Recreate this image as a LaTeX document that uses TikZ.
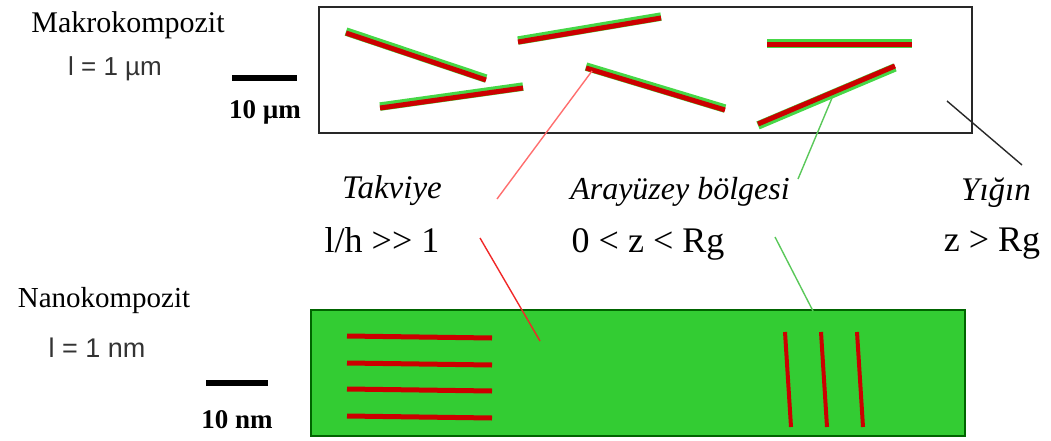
\documentclass[tikz,border=0pt]{standalone}
\usepackage{fontspec}
\setmainfont{Liberation Serif}
\newfontfamily\arialfont{Liberation Sans}
\usepackage{tikz}
\usetikzlibrary{positioning}
\definecolor{fibreRed}{RGB}{204,0,0}
\definecolor{fibreGreen}{RGB}{70,215,70}
\definecolor{matrixGreen}{RGB}{51,204,51}
\definecolor{matrixEdge}{RGB}{0,100,0}
\definecolor{boxGray}{RGB}{40,40,40}
\definecolor{linkRedA}{RGB}{255,110,110}
\definecolor{linkRedB}{RGB}{240,40,40}
\definecolor{linkGreen}{RGB}{90,200,90}

\newcommand{\fibre}[3]{%
  \draw[fibhalo, transform canvas={yshift=#3}] (#1) -- (#2);
  \draw[fibcore] (#1) -- (#2);}

\begin{document}
\begin{tikzpicture}[x=1pt, y=-1pt,
  serif/.style={inner sep=0pt, anchor=base, font=\fontsize{#1}{#1}\selectfont},
  serif/.default=32,
  ital/.style={serif=#1, font=\fontsize{#1}{#1}\selectfont\itshape},
  ital/.default=32,
  sans/.style={inner sep=0pt, anchor=base, text=black!80,
               font=\fontsize{#1}{#1}\selectfont\arialfont},
  bar/.style={inner sep=0pt, anchor=base, font=\fontsize{#1}{#1}\selectfont\bfseries},
  fibhalo/.style={draw=fibreGreen, line width=8.5pt},
  fibcore/.style={draw=fibreRed, line width=5pt},
  rod/.style={draw=fibreRed, line width=5pt},
  scalebar/.style={draw=black, line width=6pt},
  link/.style={line width=1.4pt},
]
  \useasboundingbox (0,0) rectangle (1051,441);

  % makro
  \node[serif=30] (makro) at (128,33) {Makrokompozit};
  \node[sans=26] (lmikro) at (115,76) {l = 1 µm};
  \draw[scalebar] (232,78) -- (297,78);
  \node[bar=27] (barmikro) at (265,119) {10 µm};
  \draw[boxGray, line width=2pt] (319,7) rectangle (972,133);

  \fibre{346,33}{486,80}{1.4pt}
  \fibre{518,42}{661,18}{1.4pt}
  \fibre{380,108}{523,88}{1.4pt}
  \fibre{586,68}{725,110}{1.4pt}
  \fibre{767,45}{912,45}{1.4pt}
  \fibre{758,124}{895,66}{-1.4pt}

  % labels
  \node[ital=33] (takviye) at (392,198) {Takviye};
  \node[serif=36] (oran) at (382,252) {l/h >\kern0pt> 1};
  \node[ital=32] (arayuz) at (680,199) {Arayüzey bölgesi};
  \node[serif=36] (zaralik) at (648,252) {0 < z < Rg};
  \node[ital=33] (yigin) at (996,200) {Yığın};
  \node[serif=36] (zbuyuk) at (992,251) {z > Rg};

  % nano
  \node[serif=29] (nano) at (104,307) {Nanokompozit};
  \node[sans=27] (lnano) at (97,357) {l = 1 nm};
  \draw[scalebar] (206,383) -- (268,383);
  \node[bar=27] (barnano) at (237,428) {10 nm};
  \draw[draw=matrixEdge, fill=matrixGreen, line width=2.5pt] (311,310) rectangle (965,436);

  \foreach \y in {336,363,389,416}
    \draw[rod] (347,\y) -- (492,\y+2);
  \foreach \x in {785,821,857}
    \draw[rod, line width=4pt] (\x,332) -- (\x+6,427);

  % connectors
  \coordinate (f4) at (592,71);
  \coordinate (takUst) at (497,199);
  \coordinate (takAlt) at (480,238);
  \coordinate (nanoRod) at (540,341);
  \coordinate (f6) at (832,98);
  \coordinate (araUst) at (798,179);
  \coordinate (araAlt) at (775,237);
  \coordinate (nanoUst) at (813,311);
  \coordinate (yiginUst) at (947,101);
  \coordinate (yiginSag) at (1022,165);

  \draw[link, linkRedA] (f4) -- (takUst);
  \draw[link, linkRedB] (takAlt) -- (nanoRod);
  \draw[link, linkGreen] (f6) -- (araUst);
  \draw[link, linkGreen] (araAlt) -- (nanoUst);
  \draw[link, boxGray] (yiginUst) -- (yiginSag);
\end{tikzpicture}
\end{document}
